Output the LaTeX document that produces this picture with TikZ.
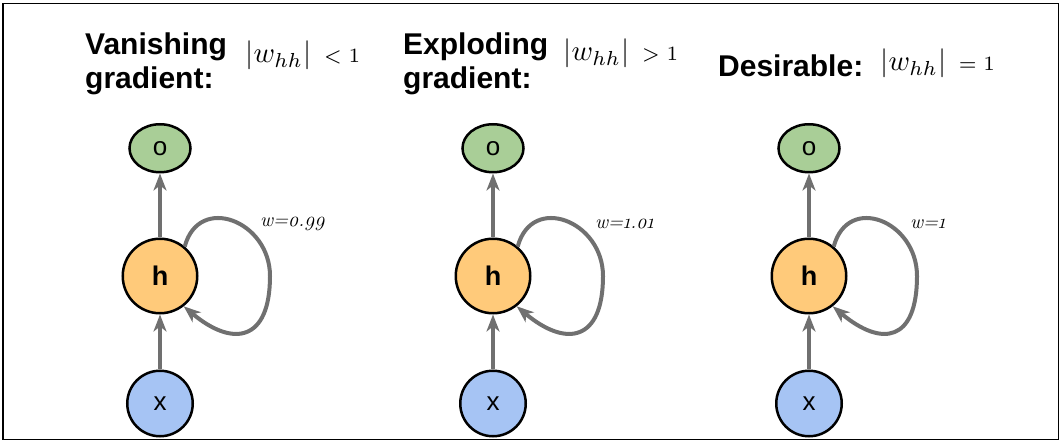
\documentclass[tikz,border=0pt]{standalone}
\usepackage{amsmath}
\usepackage{fontspec}
\newfontfamily\headfont{Liberation Sans}
\newfontfamily\lblfont[Numbers=OldStyle]{Latin Modern Roman}
\usetikzlibrary{arrows.meta,positioning,shapes.geometric}
\definecolor{outgreen}{RGB}{169,206,151}
\definecolor{hidorange}{RGB}{255,202,122}
\definecolor{inblue}{RGB}{166,196,244}
\definecolor{arrgray}{RGB}{112,112,112}

\begin{document}
\begin{tikzpicture}[
  x=1pt, y=1pt,
  title/.style={font=\headfont\bfseries\fontsize{30}{34}\selectfont, align=left, inner sep=0pt},
  cond/.style={font=\fontsize{10}{12}\selectfont, inner sep=0pt, anchor=base west,
               scale=2.9, transform shape},
  unit/.style={draw, line width=2.5pt, text=black},
  outn/.style={unit, ellipse, fill=outgreen, minimum width=61pt, minimum height=48pt,
               font=\headfont\fontsize{26}{26}\selectfont},
  hidn/.style={unit, circle, fill=hidorange, minimum size=74.5pt,
               font=\headfont\bfseries\fontsize{27}{27}\selectfont},
  inn/.style={unit, circle, fill=inblue, minimum size=65.5pt,
              font=\headfont\fontsize{26}{26}\selectfont},
  arr/.style={-{Stealth[length=17pt, width=13pt, inset=5pt]}, line width=4pt, draw=arrgray},
  lbl/.style={font=\lblfont\itshape\fontsize{20}{20}\selectfont, anchor=west, inner sep=0pt},
  frame/.style={line width=1.3pt}
]
\useasboundingbox (0,0) rectangle (1063,-443);
\draw[frame] (3,-3.5) rectangle (1058.5,-439.5);

% vanishing
\node[hidn] (h1) at (160,-276) {h};
\node[outn, above=64pt of h1] (o1) {o};
\node[inn, below=55pt of h1]  (x1) {x};
\draw[arr] (h1) -- (o1);
\draw[arr] (x1) -- (h1);
\path (h1.center) ++(110,0) coordinate (r1);
\draw[arr] (h1.50) to[out=75,in=90,distance=55pt] (r1)
  to[out=-90,in=-40,distance=65pt] (h1.-52);
\node[lbl] (w1) at (260,-224) {w=0.99};
\node[title, anchor=north west] (t1) at (85,-33) {Vanishing\\gradient:};
\node[cond] (c1) at (245,-63) {$\left|w_{hh}\right|\;\text{\scriptsize$<1$}$};

% exploding
\node[hidn] (h2) at (493,-276) {h};
\node[outn, above=64pt of h2] (o2) {o};
\node[inn, below=55pt of h2]  (x2) {x};
\draw[arr] (h2) -- (o2);
\draw[arr] (x2) -- (h2);
\path (h2.center) ++(110,0) coordinate (r2);
\draw[arr] (h2.50) to[out=75,in=90,distance=55pt] (r2)
  to[out=-90,in=-40,distance=65pt] (h2.-52);
\node[lbl] (w2) at (595,-224) {w=1.01};
\node[title, anchor=north west] (t2) at (403,-33) {Exploding\\gradient:};
\node[cond] (c2) at (563,-61) {$\left|w_{hh}\right|\;\text{\scriptsize$>1$}$};

% desirable
\node[hidn] (h3) at (809,-276) {h};
\node[outn, above=64pt of h3] (o3) {o};
\node[inn, below=55pt of h3]  (x3) {x};
\draw[arr] (h3) -- (o3);
\draw[arr] (x3) -- (h3);
\path (h3.center) ++(108,0) coordinate (r3);
\draw[arr] (h3.50) to[out=75,in=90,distance=55pt] (r3)
  to[out=-90,in=-40,distance=65pt] (h3.-52);
\node[lbl] (w3) at (910,-224) {w=1};
\node[title, anchor=base west] (t3) at (718,-77) {Desirable:};
\node[cond] (c3) at (880,-71) {$\left|w_{hh}\right|\;\text{\scriptsize$=1$}$};
\end{tikzpicture}
\end{document}
